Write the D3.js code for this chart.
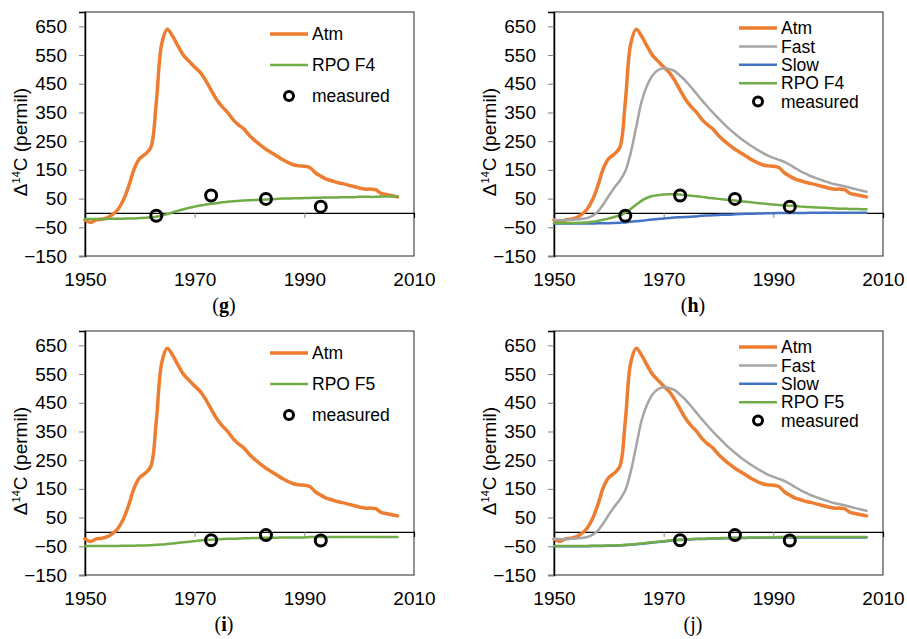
<!DOCTYPE html>
<html>
<head>
<meta charset="utf-8">
<script src="https://cdn.jsdelivr.net/npm/d3@7"></script>
<style>
  body { margin: 0; background: #fff; }
  svg { display: block; font-family: "Liberation Sans", Arial, sans-serif; }
</style>
</head>
<body>
<svg width="907" height="639"></svg>
<script>
// years shared by all modelled series
const years = [1950, 1951, 1952, 1953, 1954, 1955, 1956, 1957, 1958, 1959,
               1960, 1961, 1962, 1963, 1964, 1965, 1966, 1967, 1968, 1969,
               1970, 1971, 1972, 1973, 1974, 1975, 1976, 1977, 1978, 1979,
               1980, 1981, 1982, 1983, 1984, 1985, 1986, 1987, 1988, 1989,
               1990, 1991, 1992, 1993, 1994, 1995, 1996, 1997, 1998, 1999,
               2000, 2001, 2002, 2003, 2004, 2005, 2006, 2007];

const atm = [-24, -33, -25, -22, -17, -6, 12, 45, 95, 155,
             190, 205, 228, 385, 590, 640, 615, 580, 548, 528,
             508, 490, 462, 428, 395, 370, 350, 325, 307, 292,
             270, 252, 236, 222, 210, 198, 186, 176, 168, 164,
             163, 158, 140, 128, 118, 112, 106, 102, 97, 92,
             87, 83, 83, 81, 68, 64, 60, 56];

const fast = [-24, -25, -25, -24, -23, -21, -18, -10, 5, 30,
              60, 88, 112, 145, 210, 300, 390, 445, 480, 498,
              504, 502, 494, 478, 460, 438, 415, 392, 370, 349,
              329, 310, 292, 276, 260, 246, 233, 221, 210, 200,
              192, 185, 178, 168, 156, 145, 136, 127, 120, 113,
              107, 101, 97, 93, 88, 83, 78, 74];

// panel g : one pool RPO F4
const rpoF4One = [-21, -21, -21, -21, -21, -20, -20, -20, -19, -19,
                  -18, -17, -15, -13, -9, -4, 2, 8, 13, 18,
                  22, 26, 29, 32, 34, 37, 39, 41, 42, 43,
                  44, 45, 46, 47, 48, 49, 50, 50, 51, 51,
                  52, 52, 53, 53, 54, 54, 54, 55, 55, 55,
                  56, 56, 56, 56, 57, 57, 57, 57];

// panel h : two pool RPO F4
const slowF4 = [-37, -37, -37, -37, -37, -37, -37, -37, -36, -36,
                -36, -35, -34, -33, -31, -29, -27, -25, -23, -21,
                -19, -18, -16, -15, -14, -13, -12, -10, -9, -8,
                -7, -6, -6, -5, -4, -3, -3, -2, -2, -1,
                -1, 0, 0, 0, 0, 0, 0, 1, 1, 1,
                1, 1, 1, 1, 1, 1, 1, 1];

const rpoF4Two = [-35, -35, -35, -35, -35, -34, -33, -31, -28, -24,
                  -19, -14, -8, 0, 14, 29, 43, 53, 59, 62,
                  64, 65, 65, 64, 62, 60, 58, 56, 53, 51,
                  49, 47, 45, 43, 41, 39, 37, 35, 33, 31,
                  29, 28, 26, 25, 24, 22, 21, 20, 19, 18,
                  17, 16, 15, 15, 14, 14, 13, 13];

// panels i and j : RPO F5
const rpoF5 = [-49, -49, -49, -49, -49, -49, -49, -48, -48, -48,
               -47, -47, -46, -45, -44, -42, -40, -38, -36, -34,
               -32, -30, -28, -27, -26, -25, -24, -24, -23, -22,
               -22, -21, -21, -20, -20, -20, -19, -19, -19, -19,
               -19, -18, -18, -18, -18, -18, -18, -18, -18, -18,
               -18, -18, -18, -18, -18, -18, -18, -18];

const slowF5 = [-50, -50, -50, -50, -50, -50, -50, -49, -49, -49,
                -48, -48, -47, -46, -45, -43, -41, -39, -37, -35,
                -33, -31, -29, -28, -27, -26, -25, -25, -24, -23,
                -23, -22, -22, -21, -21, -21, -20, -20, -20, -20,
                -20, -19, -19, -19, -19, -19, -19, -19, -19, -19,
                -19, -19, -19, -19, -19, -19, -19, -19];

const measYearsF4 = [1963, 1973, 1983, 1993];
const measF4 = [-10, 61, 49, 22];
const measYearsF5 = [1973, 1983, 1993];
const measF5 = [-29, -11, -30];

const yTicks = [-150, -50, 50, 150, 250, 350, 450, 550, 650];
const xTicks = [1950, 1970, 1990, 2010];

const orange = "#ED7D31", grey = "#A5A5A5", blue = "#4472C4", green = "#70AD47";

const panels = [
    { cap: "g", bold: true, left: 85, top: 12, gap: 31,
      series: [["Atm", atm, orange, 3.5], ["RPO F4", rpoF4One, green, 2.5]],
      mYears: measYearsF4, mVals: measF4 },
    { cap: "h", bold: true, left: 554, top: 12, gap: 18.4,
      series: [["Atm", atm, orange, 3.5], ["Fast", fast, grey, 2.5],
               ["Slow", slowF4, blue, 2.5], ["RPO F4", rpoF4Two, green, 2.5]],
      mYears: measYearsF4, mVals: measF4 },
    { cap: "i", bold: true, left: 85, top: 331, gap: 31,
      series: [["Atm", atm, orange, 3.5], ["RPO F5", rpoF5, green, 2.5]],
      mYears: measYearsF5, mVals: measF5 },
    { cap: "j", bold: false, left: 554, top: 331, gap: 18.4,
      series: [["Atm", atm, orange, 3.5], ["Fast", fast, grey, 2.5],
               ["Slow", slowF5, blue, 2.5], ["RPO F5", rpoF5, green, 2.5]],
      mYears: measYearsF5, mVals: measF5 }
];

const W = 329, H = 244;
const svg = d3.select("svg");

panels.forEach(p => {
    const g = svg.append("g").attr("transform", `translate(${p.left},${p.top})`);

    const x = d3.scaleLinear().domain([1950, 2010]).range([0, W]);
    const y = d3.scaleLinear().domain([-150, 700]).range([H, 0]);

    // plot frame
    g.append("rect")
        .attr("width", W).attr("height", H)
        .attr("fill", "none").attr("stroke", "#262626").attr("stroke-width", 1);

    // y axis
    const ya = g.append("g").call(d3.axisLeft(y).tickValues(yTicks).tickSize(6).tickPadding(12));
    ya.select(".domain").attr("stroke", "#000").attr("stroke-width", 1.5);
    ya.selectAll(".tick line").attr("stroke", "#7f7f7f");
    ya.selectAll(".tick text").attr("font-size", 19).attr("fill", "#000")
        .attr("font-family", "Liberation Sans, Arial, sans-serif");

    // x labels at the bottom
    const xa = g.append("g").attr("transform", `translate(0,${H})`)
        .call(d3.axisBottom(x).tickValues(xTicks).tickFormat(d3.format("d")).tickSize(0).tickPadding(17));
    xa.select(".domain").remove();
    xa.selectAll(".tick text").attr("font-size", 19).attr("fill", "#000")
        .attr("font-family", "Liberation Sans, Arial, sans-serif");

    // horizontal axis crossing at zero
    const za = g.append("g").attr("transform", `translate(0,${y(0)})`)
        .call(d3.axisBottom(x).tickValues([1970, 1990]).tickSize(5).tickFormat(""));
    za.select(".domain").attr("stroke", "#000").attr("stroke-width", 1.2);
    za.selectAll(".tick line").attr("stroke", "#7f7f7f");

    // axis title
    const t = g.append("text")
        .attr("transform", `translate(-58,130) rotate(-90)`)
        .attr("text-anchor", "middle")
        .attr("font-size", 19).attr("fill", "#000");
    t.append("tspan").text("Δ");
    t.append("tspan").attr("font-size", 11).attr("dy", -7).text("14");
    t.append("tspan").attr("dy", 7).text("C (permil)");

    // lines
    const line = d3.line()
        .x((d, i) => x(years[i]))
        .y(d => y(d))
        .curve(d3.curveCatmullRom.alpha(0.5));

    p.series.forEach(s => {
        g.append("path")
            .datum(s[1])
            .attr("fill", "none")
            .attr("stroke", s[2])
            .attr("stroke-width", s[3])
            .attr("stroke-linejoin", "round")
            .attr("stroke-linecap", "round")
            .attr("d", line);
    });

    // measured points
    g.selectAll("circle.meas")
        .data(p.mVals)
        .enter()
        .append("circle")
        .attr("class", "meas")
        .attr("cx", (d, i) => x(p.mYears[i]))
        .attr("cy", d => y(d))
        .attr("r", 5.5)
        .attr("fill", "none")
        .attr("stroke", "#000")
        .attr("stroke-width", 3);

    // legend
    const items = p.series.map(s => ({ name: s[0], color: s[2], w: s[3] }))
        .concat([{ name: "measured", marker: true }]);
    const lg = g.append("g").attr("transform", `translate(185,${p.gap > 20 ? 22 : 16})`);
    items.forEach((it, i) => {
        const row = lg.append("g").attr("transform", `translate(0,${i * p.gap})`);
        if (it.marker) {
            row.append("circle").attr("cx", 19).attr("cy", 0).attr("r", 4.5)
                .attr("fill", "none").attr("stroke", "#000").attr("stroke-width", 3);
        } else {
            row.append("line").attr("x1", 0).attr("x2", 38).attr("y1", 0).attr("y2", 0)
                .attr("stroke", it.color).attr("stroke-width", it.w);
        }
        row.append("text").attr("x", 42).attr("y", 0).attr("dy", "0.35em")
            .attr("font-size", 17.5).attr("fill", "#000").text(it.name);
    });

    // caption
    const c = svg.append("text")
        .attr("x", p.left + 139).attr("y", p.top + 300)
        .attr("text-anchor", "middle")
        .attr("font-family", "Liberation Serif, Times New Roman, serif")
        .attr("font-size", 20).attr("fill", "#000");
    c.append("tspan").text("(");
    c.append("tspan").attr("font-weight", p.bold ? "bold" : "normal").text(p.cap);
    c.append("tspan").text(")");
});
</script>
</body>
</html>
